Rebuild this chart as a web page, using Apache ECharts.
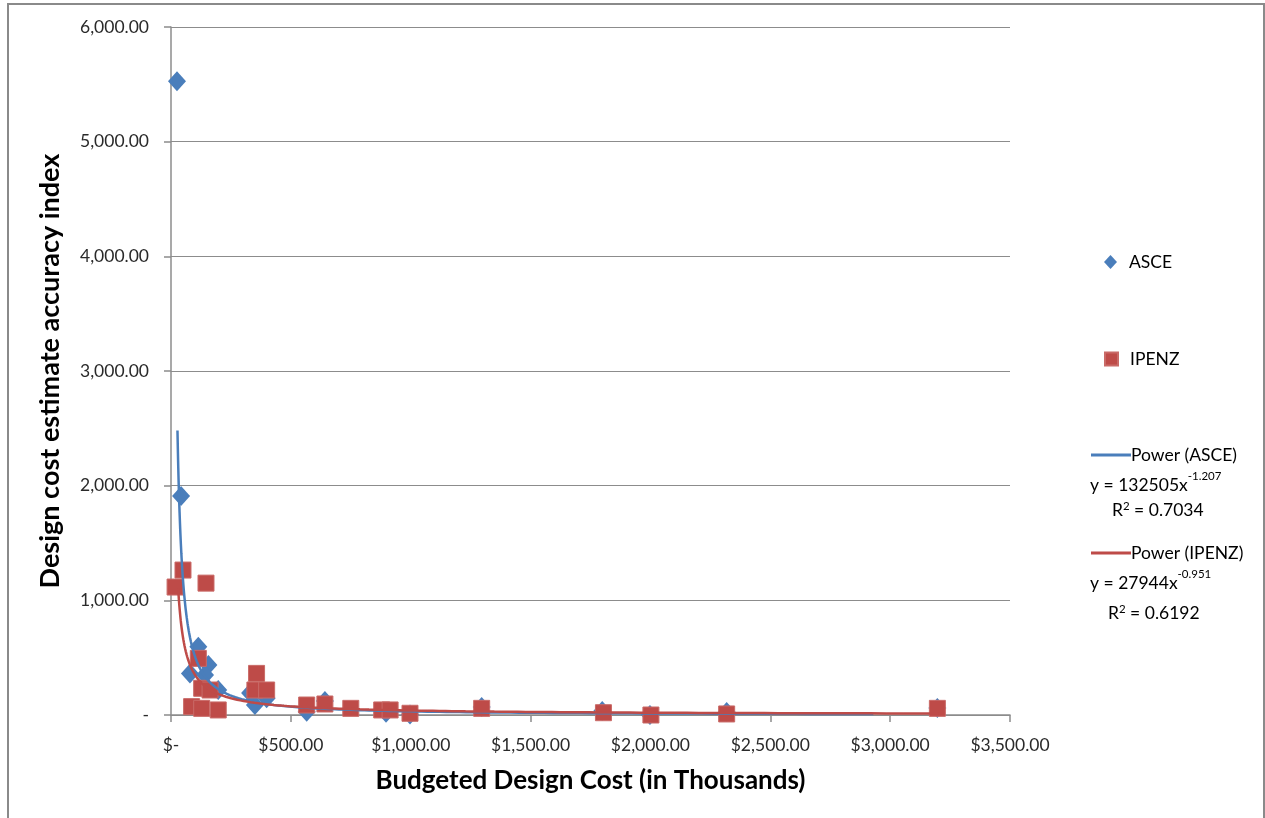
<!DOCTYPE html>
<html>
<head>
<meta charset="utf-8">
<script src="https://cdn.jsdelivr.net/npm/echarts@6/dist/echarts.min.js"></script>
<style>
html,body{margin:0;padding:0;background:#fff;}
#c{width:1265px;height:818px;}
</style>
</head>
<body>
<div id="c"></div>
<script>
// ---- data ----
const asceX = [25, 42, 114, 156, 79, 142, 197, 350, 330, 399, 642, 566, 897, 997, 1296, 1799, 1998, 2318, 3197];
const asceY = [5527, 1909, 595, 436, 363, 349, 218, 87, 192, 145, 122, 29, 20, 5, 70, 35, 0, 26, 60];
const ipenzX = [17, 50, 146, 114, 357, 350, 399, 128, 163, 86, 128, 197, 566, 642, 750, 879, 914, 997, 1296, 1804, 2002, 2318, 3197];
const ipenzY = [1116, 1264, 1150, 494, 363, 218, 218, 233, 218, 73, 58, 44, 87, 96, 58, 44, 44, 15, 58, 20, 0, 9, 58];
// trendline coefficients shown on the chart: y = a * x^b
const asceFit = [132505, -1.207];
const ipenzFit = [27944, -0.951];
const asceFitRange = [27, 2930];
const ipenzFitRange = [30, 3200];
const xTicks = [0, 500, 1000, 1500, 2000, 2500, 3000, 3500];
const yTicks = [0, 1000, 2000, 3000, 4000, 5000, 6000];

function zip(xs, ys){ return xs.map((x,i)=>[x, ys[i]]); }
function powerCurve(fit, range){
  const pts = [];
  const [a,b] = fit;
  const [lo,hi] = range;
  const n = 200;
  for(let i=0;i<=n;i++){
    const x = lo * Math.pow(hi/lo, i/n);
    pts.push([x, a*Math.pow(x,b)]);
  }
  return pts;
}
function fmt(v){
  return v.toLocaleString('en-US',{minimumFractionDigits:2, maximumFractionDigits:2});
}

const FONT = 'Lato, "Open Sans", sans-serif';
const BLUE = '#4A7EBB';
const RED = '#BE4B48';
const GRID = '#8C8C8C';

const chart = echarts.init(document.getElementById('c'), null, {renderer:'canvas'});
chart.setOption({
  animation:false,
  backgroundColor:'#fff',
  textStyle:{fontFamily:FONT},
  grid:{left:171, right:255, top:27, bottom:103, containLabel:false},
  xAxis:{
    type:'value', min:xTicks[0], max:xTicks[xTicks.length-1], interval:500,
    axisLine:{show:true, lineStyle:{color:GRID, width:1.5}},
    axisTick:{show:true, inside:false, length:7, lineStyle:{color:GRID, width:1.5}},
    splitLine:{show:false},
    axisLabel:{fontFamily:FONT, fontSize:17.5, color:'#2a2a2a', margin:21,
      formatter:v => v===0 ? '$-' : '$'+fmt(v)},
    name:'Budgeted Design Cost (in Thousands)',
    nameLocation:'middle', nameGap:53,
    nameTextStyle:{fontFamily:FONT, fontSize:26, fontWeight:'bold', color:'#000'}
  },
  yAxis:{
    type:'value', min:yTicks[0], max:yTicks[yTicks.length-1], interval:1000,
    axisLine:{show:true, lineStyle:{color:GRID, width:1.5}},
    axisTick:{show:true, inside:false, length:7, lineStyle:{color:GRID, width:1.5}},
    splitLine:{show:true, lineStyle:{color:GRID, width:1.2}},
    axisLabel:{fontFamily:FONT, fontSize:17.5, color:'#2a2a2a', margin:22,
      formatter:v => v===0 ? '-' : fmt(v)},
    name:'Design cost estimate accuracy index',
    nameLocation:'middle', nameGap:107, nameRotate:90,
    nameTextStyle:{fontFamily:FONT, fontSize:27, fontWeight:'bold', color:'#000'}
  },
  legend:[
    {data:[{name:'ASCE', icon:'diamond'}], left:1099, top:248, itemWidth:13, itemHeight:14, itemGap:0,
     textStyle:{fontFamily:FONT, fontSize:17.5, color:'#000', padding:[0,0,0,7]}},
    {data:[{name:'IPENZ', icon:'rect'}], left:1099, top:345, itemWidth:13, itemHeight:13,
     textStyle:{fontFamily:FONT, fontSize:17.5, color:'#000', padding:[0,0,0,7]}},
    {data:[{name:'Power (ASCE)', icon:'rect'}], left:1086, top:441, itemWidth:40, itemHeight:3, itemGap:0,
     textStyle:{fontFamily:FONT, fontSize:17.5, color:'#000', padding:[0,0,0,-5]}},
    {data:[{name:'Power (IPENZ)', icon:'rect'}], left:1086, top:539, itemWidth:40, itemHeight:3,
     textStyle:{fontFamily:FONT, fontSize:17.5, color:'#000', padding:[0,0,0,-5]}}
  ],
  graphic:[
    {type:'rect', silent:true, z:-1, shape:{x:8, y:4, width:1256, height:830},
     style:{fill:null, stroke:'#8A8A8A', lineWidth:2}},
    {type:'text', left:1090, top:470, z:10, style:{
      text:'{a|y = '+asceFit[0]+'x}{s|'+asceFit[1]+'}',
      rich:{a:{fontFamily:FONT, fontSize:17.5, color:'#000', verticalAlign:'bottom', lineHeight:24},
            s:{fontFamily:FONT, fontSize:11.5, color:'#000', verticalAlign:'top', lineHeight:24}}}},
    {type:'text', left:1112, top:500, z:10, style:{
      text:'R{s|2} = 0.7034',
      fontFamily:FONT, fontSize:17.5, fill:'#000',
      rich:{s:{fontFamily:FONT, fontSize:11.5, color:'#000', verticalAlign:'top', lineHeight:20}}}},
    {type:'text', left:1090, top:568, z:10, style:{
      text:'{a|y = '+ipenzFit[0]+'x}{s|'+ipenzFit[1]+'}',
      rich:{a:{fontFamily:FONT, fontSize:17.5, color:'#000', verticalAlign:'bottom', lineHeight:24},
            s:{fontFamily:FONT, fontSize:11.5, color:'#000', verticalAlign:'top', lineHeight:24}}}},
    {type:'text', left:1108, top:603, z:10, style:{
      text:'R{s|2} = 0.6192',
      fontFamily:FONT, fontSize:17.5, fill:'#000',
      rich:{s:{fontFamily:FONT, fontSize:11.5, color:'#000', verticalAlign:'top', lineHeight:20}}}}
  ],
  series:[
    {name:'ASCE', type:'scatter', data:zip(asceX, asceY), symbol:'diamond', symbolSize:[18,20],
     itemStyle:{color:BLUE, opacity:1}, z:2},
    {name:'IPENZ', type:'scatter', data:zip(ipenzX, ipenzY), symbol:'rect', symbolSize:16,
     itemStyle:{color:RED, borderColor:'#C96A67', borderWidth:1, opacity:1}, z:3},
    {name:'Power (ASCE)', type:'line', data:powerCurve(asceFit, asceFitRange), showSymbol:false, symbol:'none',
     smooth:false, lineStyle:{color:BLUE, width:2.5}, itemStyle:{color:BLUE}, z:4, clip:true},
    {name:'Power (IPENZ)', type:'line', data:powerCurve(ipenzFit, ipenzFitRange), showSymbol:false, symbol:'none',
     smooth:false, lineStyle:{color:RED, width:2.5}, itemStyle:{color:RED}, z:5, clip:true}
  ]
});
</script>
</body>
</html>
